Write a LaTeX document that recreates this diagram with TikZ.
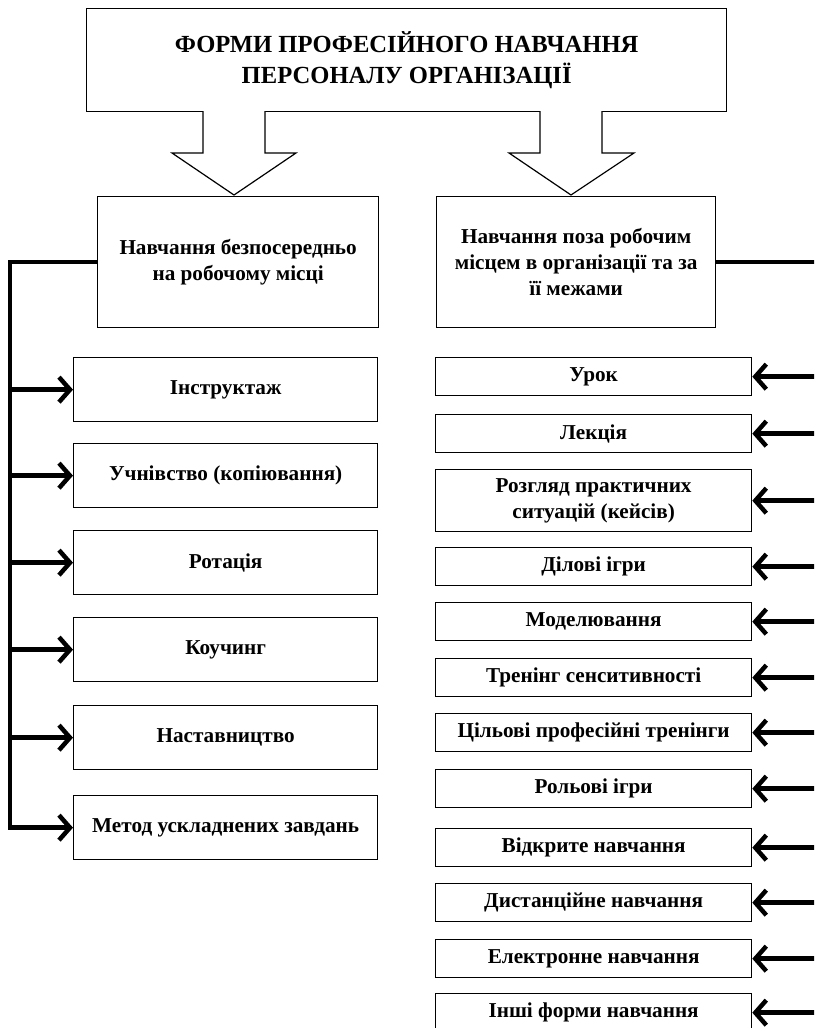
\documentclass[tikz,border=0pt]{standalone}
\usepackage{fontspec}
\setmainfont{Liberation Serif}
\usetikzlibrary{arrows.meta}
\begin{document}
\begin{tikzpicture}[x=1pt,y=-1pt,
  box/.style={draw, line width=1.3pt, align=center, inner sep=0pt, anchor=north west,
    font=\bfseries\fontsize{21.2}{26}\selectfont},
  title/.style={box, font=\bfseries\fontsize{24.6}{31}\selectfont},
  conn/.style={line width=4.5pt},
  arr/.style={conn, -{Straight Barb[length=11pt,width=25pt]}},
  hollow/.style={draw, fill=white, line width=1.2pt, line join=miter}]
\useasboundingbox (0,0) rectangle (814,1028);
\clip (0,0) rectangle (814,1028);

% title
\node[title, minimum width=640, minimum height=103] (top) at (86,8)
  {ФОРМИ ПРОФЕСІЙНОГО НАВЧАННЯ\\ПЕРСОНАЛУ ОРГАНІЗАЦІЇ};

% second level
\node[box, minimum width=281, minimum height=131] (lb) at (97,196)
  {Навчання безпосередньо\\на робочому місці};
\node[box, minimum width=279, minimum height=131] (rb) at (436,196)
  {Навчання поза робочим\\місцем в організації та за\\її межами};

% hollow arrows
\draw[hollow] (203,111) -- (203,153) -- (172,153) -- (234,195) -- (296,153) -- (265,153) -- (265,111);
\draw[hollow] (540,111) -- (540,153) -- (509,153) -- (571,195) -- (634,153) -- (602,153) -- (602,111);

% left boxes
\node[box, minimum width=304, minimum height=64] (l1) at (73,357) {Інструктаж};
\node[box, minimum width=304, minimum height=64] (l2) at (73,443) {Учнівство (копіювання)};
\node[box, minimum width=304, minimum height=64] (l3) at (73,530) {Ротація};
\node[box, minimum width=304, minimum height=64] (l4) at (73,617) {Коучинг};
\node[box, minimum width=304, minimum height=64] (l5) at (73,705) {Наставництво};
\node[box, minimum width=304, minimum height=64] (l6) at (73,795) {Метод ускладнених завдань};

% right boxes
\node[box, minimum width=316, minimum height=38] (r1) at (435,357) {Урок};
\node[box, minimum width=316, minimum height=38] (r2) at (435,414) {Лекція};
\node[box, minimum width=316, minimum height=62] (r3) at (435,469) {Розгляд практичних\\ситуацій (кейсів)};
\node[box, minimum width=316, minimum height=38] (r4) at (435,547) {Ділові ігри};
\node[box, minimum width=316, minimum height=38] (r5) at (435,602) {Моделювання};
\node[box, minimum width=316, minimum height=38] (r6) at (435,658) {Тренінг сенситивності};
\node[box, minimum width=316, minimum height=38] (r7) at (435,713) {Цільові професійні тренінги};
\node[box, minimum width=316, minimum height=38] (r8) at (435,769) {Рольові ігри};
\node[box, minimum width=316, minimum height=38] (r9) at (435,828) {Відкрите навчання};
\node[box, minimum width=316, minimum height=38] (r10) at (435,883) {Дистанційне навчання};
\node[box, minimum width=316, minimum height=38] (r11) at (435,939) {Електронне навчання};
\node[box, minimum width=316, minimum height=38] (r12) at (435,993) {Інші форми навчання};

% left trunk
\coordinate (tl) at (10,0);
\draw[arr, line join=miter] (lb.west) -- (tl |- lb.west) -- (tl |- l6.west) -- (l6.west);
\foreach \i in {1,...,5} {\draw[arr] (tl |- l\i.west) -- (l\i.west);}

% right trunk (beyond the page edge)
\coordinate (tr) at (820,0);
\draw[conn] (rb.east) -- (tr |- rb.east);
\foreach \i in {1,...,12} {\draw[arr] (tr |- r\i.east) -- (r\i.east);}
\end{tikzpicture}
\end{document}
